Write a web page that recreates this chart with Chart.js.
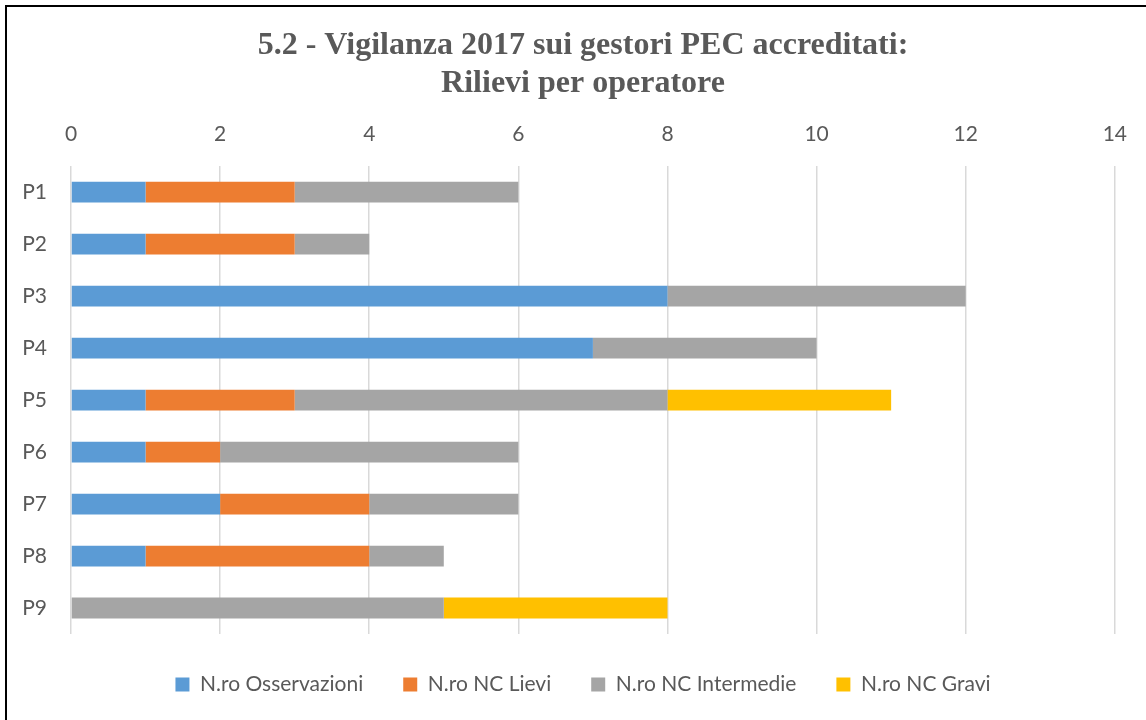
<!DOCTYPE html>
<html>
<head>
<meta charset="utf-8">
<script src="https://cdn.jsdelivr.net/npm/chart.js@4/dist/chart.umd.min.js"></script>
<style>
  body { margin: 0; background: #fff; }
  #wrap { position: relative; width: 1146px; height: 720px; overflow: hidden; }
  #frame { position: absolute; left: 5px; top: 5px; width: 1200px; height: 800px;
           border-left: 2px solid #000; border-top: 2px solid #000; }
  canvas { position: absolute; left: 0; top: 0; }
</style>
</head>
<body>
<div id="wrap">
  <div id="frame"></div>
  <canvas id="myChart" width="1146" height="720"></canvas>
</div>
<script>
var operatori = ["P1", "P2", "P3", "P4", "P5", "P6", "P7", "P8", "P9"];
var osservazioni = [1, 1, 8, 7, 1, 1, 2, 1, 0];
var ncLievi = [2, 2, 0, 0, 2, 1, 2, 3, 0];
var ncIntermedie = [3, 1, 4, 3, 5, 4, 2, 1, 5];
var ncGravi = [0, 0, 0, 0, 3, 0, 0, 0, 3];
var seriesNames = ["N.ro Osservazioni", "N.ro NC Lievi", "N.ro NC Intermedie", "N.ro NC Gravi"];
var barColors = ["#5B9BD5", "#ED7D31", "#A5A5A5", "#FFC000"];

var textColor = "#595959";
var allSeries = [osservazioni, ncLievi, ncIntermedie, ncGravi];
var datasets = [];
for (var i = 0; i < allSeries.length; i++) {
    datasets.push({
        label: seriesNames[i],
        data: allSeries[i],
        backgroundColor: barColors[i],
        barPercentage: 0.4,
        categoryPercentage: 1.0
    });
}

new Chart("myChart", {
    type: "bar",
    data: {
        labels: operatori,
        datasets: datasets
    },
    options: {
        indexAxis: "y",
        responsive: false,
        animation: false,
        layout: {
            padding: { left: 20, right: 0, top: 0, bottom: 15 }
        },
        scales: {
            x: {
                position: "top",
                stacked: true,
                min: 0,
                max: 14,
                ticks: {
                    stepSize: 2,
                    color: textColor,
                    font: { family: "Lato", size: 21 },
                    padding: 19
                },
                grid: {
                    color: "#D9D9D9",
                    lineWidth: 1.5,
                    drawTicks: false
                },
                border: { display: false }
            },
            y: {
                stacked: true,
                ticks: {
                    color: textColor,
                    font: { family: "Lato", size: 21 },
                    padding: 24
                },
                grid: { display: false, drawTicks: false },
                border: { display: false },
                afterFit: function (scale) { scale.width = 51; }
            },
            // empty spacer on the right so title/legend centre like the original
            spacer: {
                type: "linear",
                axis: "y",
                position: "right",
                display: true,
                grid: { display: false, drawTicks: false },
                ticks: { display: false },
                border: { display: false },
                afterFit: function (scale) { scale.width = 31; }
            }
        },
        plugins: {
            title: {
                display: true,
                text: ["5.2 - Vigilanza 2017 sui gestori PEC accreditati:", "Rilievi per operatore"],
                color: textColor,
                font: { family: "Liberation Serif", size: 32, weight: "bold", lineHeight: 1.1875 },
                padding: { top: 27, bottom: 0 }
            },
            legend: {
                position: "bottom",
                labels: {
                    color: textColor,
                    font: { family: "Lato", size: 21 },
                    boxWidth: 14,
                    boxHeight: 14,
                    padding: 40
                }
            },
            tooltip: { enabled: false }
        }
    }
});
</script>
</body>
</html>
